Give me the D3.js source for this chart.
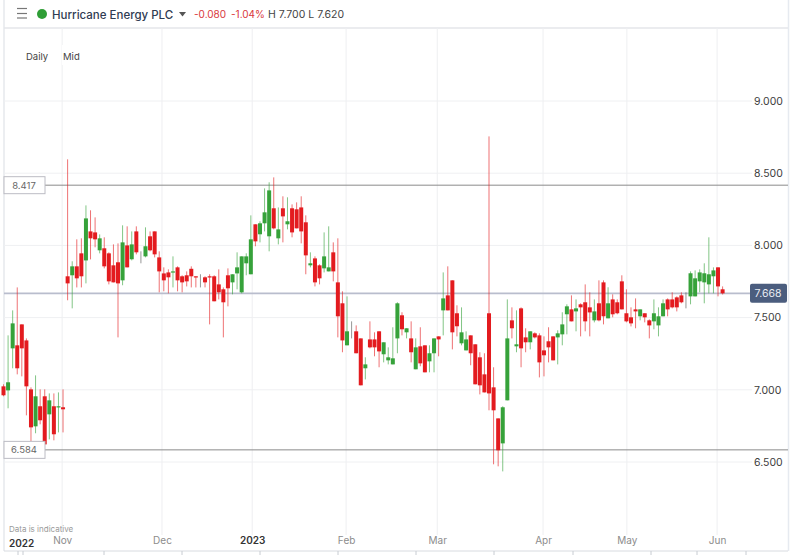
<!DOCTYPE html>
<html><head><meta charset="utf-8">
<script src="https://cdn.jsdelivr.net/npm/d3@7/dist/d3.min.js"></script>
<style>html,body{margin:0;padding:0;background:#fff;overflow:hidden}svg{display:block}text{font-family:"Inter","Open Sans",sans-serif}</style>
</head><body><div id="c"></div>
<script>
const opens=[7.024,6.996,7.287,7.308,7.453,7.342,7.003,6.747,6.886,6.955,
6.830,6.886,6.879,6.879,7.786,7.793,7.855,7.945,7.896,8.097,
8.090,7.966,7.980,7.945,7.862,7.883,7.758,8.000,7.904,8.097,
7.957,7.924,8.063,8.097,7.917,7.806,7.813,7.813,7.848,7.786,
7.793,7.838,7.786,7.786,7.779,7.786,7.786,7.730,7.696,7.793,
7.744,7.806,7.675,7.876,7.800,8.146,8.077,8.153,8.063,8.257,
8.049,8.257,8.146,8.257,8.250,8.263,8.160,7.862,7.910,7.862,
7.841,7.820,7.952,7.744,7.599,7.308,7.398,7.405,7.356,7.149,
7.349,7.349,7.405,7.246,7.204,7.176,7.356,7.516,7.398,7.356,
7.142,7.301,7.308,7.197,7.253,7.370,7.550,7.654,7.758,7.530,
7.322,7.273,7.377,7.315,7.225,7.107,7.530,7.017,6.802,6.629,
6.927,7.481,7.301,7.564,7.363,7.329,7.391,7.377,7.273,7.336,
7.370,7.363,7.384,7.523,7.557,7.543,7.592,7.606,7.571,7.481,
7.599,7.744,7.495,7.626,7.606,7.751,7.530,7.502,7.557,7.509,
7.530,7.481,7.474,7.446,7.509,7.626,7.626,7.640,7.654,7.626,
7.647,7.647,7.751,7.744,7.730,7.786,7.848,7.696];
const closes=[6.962,7.052,7.460,7.149,7.287,7.024,6.740,6.955,6.789,6.622,
6.927,6.692,6.886,6.865,7.737,7.855,7.772,7.786,8.187,8.049,
8.042,8.049,7.855,7.751,7.744,7.737,8.021,7.848,8.007,7.952,
7.957,7.994,7.966,7.938,7.820,7.758,7.779,7.820,7.758,7.744,
7.751,7.786,7.779,7.786,7.744,7.779,7.613,7.675,7.606,7.703,
7.800,7.848,7.924,7.924,8.042,8.028,8.153,8.229,8.381,8.118,
8.111,8.201,8.167,8.090,8.118,8.097,7.931,7.876,7.744,7.772,
7.924,7.848,7.820,7.509,7.342,7.405,7.398,7.253,7.031,7.176,
7.294,7.294,7.266,7.329,7.225,7.218,7.599,7.419,7.426,7.260,
7.294,7.183,7.121,7.253,7.356,7.349,7.633,7.550,7.398,7.440,
7.398,7.349,7.253,7.038,7.031,6.982,6.975,6.858,6.581,6.879,
7.356,7.426,7.315,7.287,7.329,7.405,7.363,7.190,7.239,7.294,
7.204,7.391,7.453,7.578,7.474,7.564,7.571,7.474,7.536,7.543,
7.481,7.509,7.599,7.523,7.530,7.557,7.474,7.460,7.543,7.557,
7.502,7.446,7.530,7.509,7.599,7.557,7.571,7.571,7.606,7.626,
7.807,7.772,7.813,7.807,7.800,7.827,7.716,7.668];
const highs=[7.038,7.377,7.550,7.709,7.453,7.356,7.017,7.100,7.003,7.003,
6.975,6.975,6.982,7.003,8.596,7.890,8.042,8.049,8.277,8.243,
8.194,8.076,8.056,7.952,8.007,8.014,8.139,8.132,8.097,8.132,
7.959,8.125,8.097,8.097,7.959,7.848,7.834,7.924,7.855,7.793,
7.820,7.855,7.786,7.800,7.786,7.800,7.793,7.834,7.709,7.841,
7.800,7.952,7.924,7.945,8.208,8.146,8.167,8.395,8.437,8.471,
8.263,8.340,8.333,8.284,8.298,8.340,8.208,7.952,7.924,7.869,
8.090,8.132,8.021,8.049,7.682,7.647,7.474,7.446,7.356,7.225,
7.474,7.398,7.405,7.329,7.294,7.433,7.606,7.537,7.426,7.474,
7.356,7.433,7.308,7.308,7.356,7.370,7.813,7.855,7.758,7.585,
7.571,7.405,7.377,7.315,7.260,7.253,8.755,7.156,6.802,6.886,
7.626,7.571,7.550,7.571,7.426,7.405,7.398,7.391,7.370,7.433,
7.370,7.412,7.537,7.592,7.654,7.626,7.599,7.730,7.675,7.626,
7.758,7.758,7.710,7.661,7.626,7.793,7.696,7.571,7.633,7.557,
7.530,7.488,7.626,7.571,7.626,7.633,7.675,7.647,7.675,7.675,
7.820,7.827,7.834,7.876,8.056,7.848,7.848,7.716];
const lows=[6.955,6.872,7.149,7.107,7.093,6.823,6.643,6.699,6.761,6.622,
6.657,6.650,6.705,6.705,7.620,7.564,7.709,7.709,7.737,7.903,
7.987,7.945,7.841,7.730,7.744,7.363,7.724,7.848,7.896,7.938,
7.876,7.917,7.959,7.917,7.675,7.682,7.668,7.709,7.682,7.675,
7.716,7.709,7.709,7.709,7.709,7.453,7.613,7.626,7.363,7.578,
7.661,7.696,7.668,7.793,7.800,7.994,8.021,8.097,7.959,8.111,
8.007,8.021,8.111,8.056,8.118,8.014,7.800,7.848,7.716,7.730,
7.813,7.820,7.751,7.363,7.260,7.308,7.356,7.253,7.031,7.072,
7.287,7.232,7.156,7.190,7.176,7.176,7.253,7.377,7.356,7.190,
7.142,7.163,7.121,7.121,7.121,7.232,7.377,7.550,7.280,7.370,
7.308,7.273,7.170,7.038,6.968,6.982,6.858,6.484,6.470,6.435,
6.927,7.356,7.260,7.156,7.260,7.280,7.356,7.086,7.093,7.190,
7.204,7.176,7.308,7.384,7.474,7.405,7.370,7.405,7.370,7.467,
7.474,7.453,7.495,7.502,7.523,7.557,7.467,7.439,7.426,7.481,
7.467,7.356,7.419,7.370,7.509,7.509,7.564,7.543,7.599,7.564,
7.592,7.647,7.675,7.599,7.668,7.668,7.647,7.660];
const priceTicks=[9,8.5,8,7.5,7,6.5];
const monthPos=[12.8,34.6,54.3,74.8,94.7,117.8,136.1,155.8];
const monthLabels=["Nov","Dec","2023","Feb","Mar","Apr","May","Jun"];
const levels=[8.417,6.584];
const lastMid=7.668;
const title="Hurricane Energy PLC";

const W=793,H=555;
const x=d3.scaleLinear().domain([0,157]).range([3.5,722.6]);
const y=d3.scaleLinear().domain([9,6.5]).range([101,462]);
const svg=d3.select("#c").append("svg").attr("width",W).attr("height",H);
const f3=d3.format(".3f");
const plotL=4,plotR=752,edgeR=788,plotT=28,plotB=535;

// frame
svg.append("line").attr("x1",4).attr("x2",4).attr("y1",0).attr("y2",551).attr("stroke","#e6e8ec").attr("stroke-width",1.5);
svg.append("line").attr("x1",788.5).attr("x2",788.5).attr("y1",0).attr("y2",551).attr("stroke","#e6eaf0").attr("stroke-width",1.5);
svg.append("line").attr("x1",4).attr("x2",edgeR).attr("y1",28).attr("y2",28).attr("stroke","#e4e6ea").attr("stroke-width",1.5);
svg.append("line").attr("x1",4).attr("x2",edgeR).attr("y1",551).attr("y2",551).attr("stroke","#d8dbe0");

// grid
svg.append("g").selectAll("line").data(priceTicks).join("line")
 .attr("x1",plotL).attr("x2",plotR).attr("y1",d=>y(d)).attr("y2",d=>y(d)).attr("stroke","#eff0f2").attr("stroke-width",1);
svg.append("g").selectAll("line").data(monthPos).join("line")
 .attr("x1",d=>x(d)).attr("x2",d=>x(d)).attr("y1",plotT).attr("y2",plotB).attr("stroke","#eeeff1").attr("stroke-width",1);

// reference lines
svg.append("g").selectAll("line").data(levels).join("line")
 .attr("x1",45).attr("x2",edgeR).attr("y1",d=>y(d)).attr("y2",d=>y(d)).attr("stroke","#8a8a8a").attr("stroke-width",1);
svg.append("line").attr("x1",plotL).attr("x2",plotR).attr("y1",y(lastMid)).attr("y2",y(lastMid)).attr("stroke","#b9bdcd").attr("stroke-width",1.6);

// candles
const green="#36a23a",red="#e31b1f",grey="#555";
const idx=d3.range(opens.length);
const col=i=>closes[i]>opens[i]?green:(closes[i]<opens[i]?red:grey);
svg.append("g").selectAll("line").data(idx).join("line")
 .attr("x1",i=>x(i)).attr("x2",i=>x(i)).attr("y1",i=>y(highs[i])).attr("y2",i=>y(lows[i]))
 .attr("stroke",col).attr("stroke-width",1).attr("stroke-opacity",0.62);
svg.append("g").selectAll("rect").data(idx.filter(i=>opens[i]!==closes[i])).join("rect")
 .attr("x",i=>x(i)-2).attr("width",4)
 .attr("y",i=>y(Math.max(opens[i],closes[i])))
 .attr("height",i=>Math.max(1.2,Math.abs(y(opens[i])-y(closes[i]))))
 .attr("fill",col);

// y axis
const ya=d3.axisRight(y).tickValues(priceTicks).tickFormat(f3).tickSize(0).tickPadding(0);
const gy=svg.append("g").attr("transform","translate(753,0)").call(ya);
gy.select(".domain").remove();
gy.selectAll("text").attr("font-size",10.5).attr("fill","#3d3d3d").attr("dx",1);

// x axis
const xa=d3.axisBottom(x).tickValues(monthPos).tickFormat((d,i)=>monthLabels[i]).tickSize(0).tickPadding(0);
const gx=svg.append("g").attr("transform","translate(0,537)").call(xa);
gx.select(".domain").remove();
gx.selectAll("text").attr("font-size",10).attr("fill","#8c8c8c").attr("font-weight",400)
 .filter((d,i)=>monthLabels[i]==="2023").attr("font-size",10).attr("fill","#333").attr("font-weight",600);
svg.append("text").attr("x",9).attr("y",547).attr("font-size",10).attr("font-weight",600).attr("fill","#333").text("2022");

// level labels
levels.forEach(v=>{
 svg.append("rect").attr("x",4).attr("y",y(v)-8.5).attr("width",41).attr("height",17).attr("fill","#fff").attr("stroke","#bcbcc4").attr("stroke-width",1);
 svg.append("text").attr("x",24).attr("y",y(v)+3.5).attr("text-anchor","middle").attr("font-size",9.5).attr("fill","#666").text(f3(v));
});
svg.append("rect").attr("x",750).attr("y",y(lastMid)-9.5).attr("width",37).attr("height",19).attr("rx",2).attr("fill","#4b5d7e");
svg.append("text").attr("x",768).attr("y",y(lastMid)+4).attr("text-anchor","middle").attr("font-size",10.5).attr("fill","#e8ecf2").text(f3(lastMid));

// header
[8.5,13.5,18].forEach(v=>svg.append("line").attr("x1",17).attr("x2",27).attr("y1",v).attr("y2",v).attr("stroke","#777").attr("stroke-width",1.2));
svg.append("circle").attr("cx",42).attr("cy",14).attr("r",5).attr("fill","#2f9e36");
svg.append("text").attr("x",52).attr("y",18.5).attr("font-size",11.5).attr("font-weight",500).attr("fill","#2f3b52").text(title);
svg.append("path").attr("d",d3.line()([[179,12],[186,12],[182.5,16.5]])+"Z").attr("fill","#555");
svg.append("text").attr("x",194).attr("y",18).attr("font-size",10).attr("fill","#d9363a").text("-0.080");
svg.append("text").attr("x",231).attr("y",18).attr("font-size",10).attr("fill","#d9363a").text("-1.04%");
svg.append("text").attr("x",268).attr("y",18).attr("font-size",10.5).attr("fill","#444").text("H 7.700 L 7.620");

// small labels
svg.append("text").attr("x",26).attr("y",59.5).attr("font-size",9.5).attr("fill","#444").text("Daily");
svg.append("rect").attr("x",62).attr("y",45).attr("width",20).attr("height",20).attr("fill","#fff");
svg.append("text").attr("x",63).attr("y",59.5).attr("font-size",9.5).attr("fill","#444").text("Mid");
svg.append("text").attr("x",9).attr("y",532).attr("font-size",8).attr("fill","#9a9a9a").text("Data is indicative");

// navigator stubs
[18,23,104,182,260,338,416,494,573,651,697,746].forEach(v=>svg.append("line").attr("x1",v).attr("x2",v).attr("y1",551).attr("y2",555).attr("stroke","#c8ccd2"));
</script></body></html>
